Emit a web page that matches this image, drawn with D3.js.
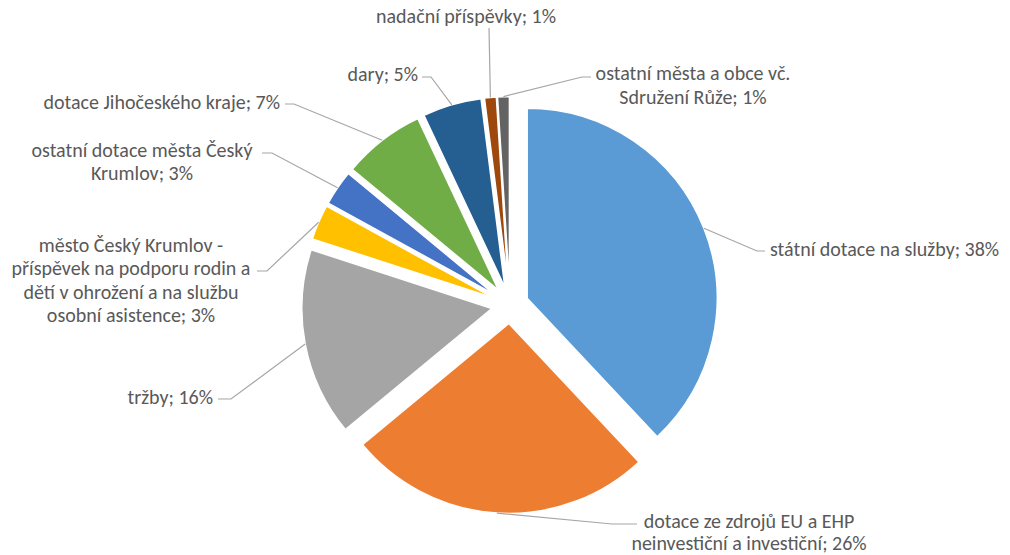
<!DOCTYPE html>
<html><head><meta charset="utf-8">
<script src="https://cdn.jsdelivr.net/npm/d3@7/dist/d3.min.js"></script>
<style>body{margin:0;background:#fff}svg{display:block}</style>
</head><body>
<svg id="chart" width="1010" height="555"></svg>
<script>
const categories = [
  "státní dotace na služby",
  "dotace ze zdrojů EU a EHP neinvestiční a investiční",
  "tržby",
  "město Český Krumlov - příspěvek na podporu rodin a dětí v ohrožení a na službu osobní asistence",
  "ostatní dotace města Český Krumlov",
  "dotace Jihočeského kraje",
  "dary",
  "nadační příspěvky",
  "ostatní města a obce vč. Sdružení Růže"
];
const values = [38, 26, 16, 3, 3, 7, 5, 1, 1];
const colors = ["#5B9BD5","#ED7D31","#A5A5A5","#FFC000","#4472C4","#70AD47","#255E91","#9E480E","#636363"];

// label layout (positions only)
const lineWords = [[99],[6,99],[99],[4,5,6,99],[4,99],[99],[99],[99],[5,99]];
const labelLayout = [
  {x:770, y:249, a:"start",  lx:765, ly:251, ex:757, lh:23.5},
  {x:749, y:521, a:"middle", lx:637, ly:524, ex:612, lh:22},
  {x:213, y:397, a:"end",    lx:218, ly:399, ex:231, lh:23.5},
  {x:131, y:245, a:"middle", lx:257, ly:271, ex:267, lh:23.5},
  {x:142, y:150, a:"middle", lx:262, ly:153, ex:272, lh:23.5},
  {x:280, y:102, a:"end",    lx:285, ly:104, ex:294, lh:23.5},
  {x:418, y:74,  a:"end",    lx:422, ly:77,  ex:431, lh:23.5},
  {x:466, y:16,  a:"middle", lx:489, ly:28,  ex:489, lh:23.5},
  {x:693, y:73,  a:"middle", lx:591, ly:77,  ex:582, lh:24}
];

const cx = 510, cy = 305, R = 190, explode = 18.5;
const svg = d3.select("#chart");
const data = categories.map((c,i)=>({name:c, value:values[i], color:colors[i], lay:labelLayout[i], words:lineWords[i]}));

const pie = d3.pie().value(d=>d.value).sort(null);
const arc = d3.arc().innerRadius(0).outerRadius(R);
const arcs = pie(data);

const g = svg.append("g").attr("transform", `translate(${cx},${cy})`);

function offset(d){
  const m = (d.startAngle + d.endAngle)/2;
  return [explode*Math.sin(m), -explode*Math.cos(m)];
}

g.selectAll("path.slice").data(arcs).join("path")
  .attr("class","slice")
  .attr("d", arc)
  .attr("fill", d=>d.data.color)
  .attr("stroke","#fff").attr("stroke-width",1.5)
  .attr("transform", d=>{const o=offset(d);return `translate(${o[0]},${o[1]})`;});

// leader lines
svg.selectAll("path.leader").data(arcs).join("path")
  .attr("class","leader")
  .attr("fill","none").attr("stroke","#A6A6A6").attr("stroke-width",1.2)
  .attr("d", d=>{
    const o = offset(d), m=(d.startAngle+d.endAngle)/2;
    const px = cx + o[0] + R*Math.sin(m), py = cy + o[1] - R*Math.cos(m);
    const L = d.data.lay;
    return d3.line()([[L.lx,L.ly],[L.ex,L.ly],[px,py]]);
  });

// labels
const labels = svg.selectAll("text.lbl").data(arcs).join("text")
  .attr("class","lbl")
  .attr("font-family","Carlito, Calibri, Lato, sans-serif")
  .attr("font-size","20px")
  .attr("fill","#595959")
  .attr("text-anchor", d=>d.data.lay.a);

labels.each(function(d){
  const full = `${d.data.name}; ${d.data.value}%`;
  const words = full.split(" ");
  const lines = []; let k=0;
  d.data.words.forEach(n=>{ if(k<words.length){ lines.push(words.slice(k,k+n).join(" ")); k+=n; } });
  const t = d3.select(this);
  lines.forEach((ln,j)=>{
    t.append("tspan").attr("x", d.data.lay.x).attr("y", d.data.lay.y + j*d.data.lay.lh).attr("dy","0.33em").text(ln);
  });
});
</script>
</body></html>
